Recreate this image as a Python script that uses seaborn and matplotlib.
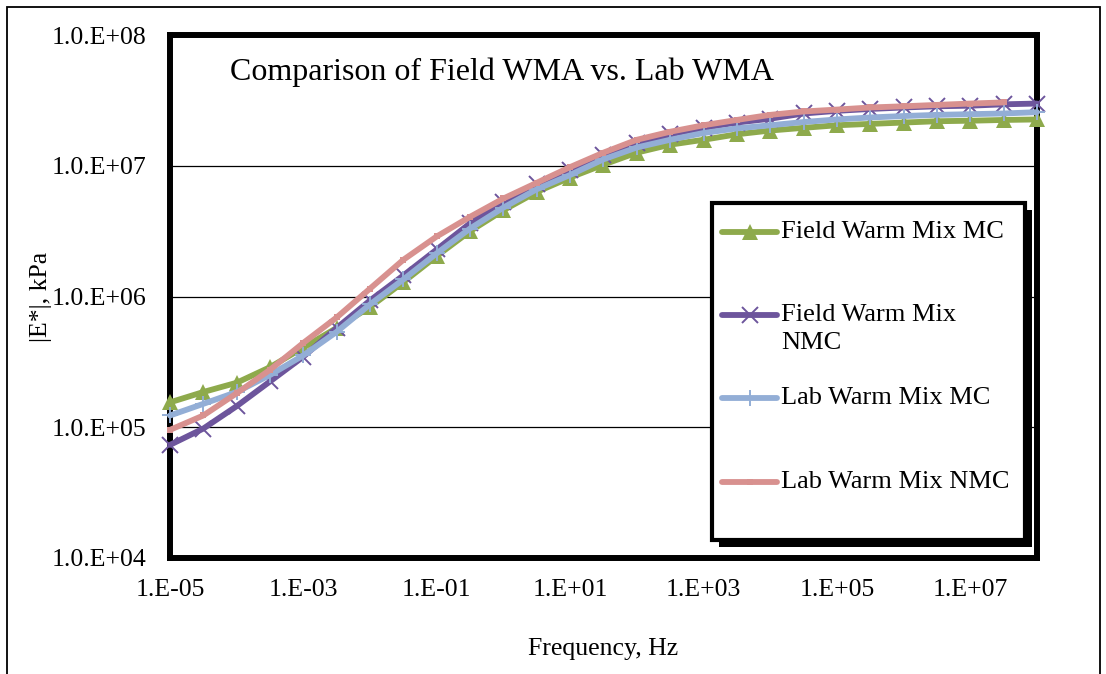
import matplotlib
matplotlib.use("Agg")
import matplotlib.pyplot as plt
from matplotlib.patches import Rectangle
from matplotlib.lines import Line2D
from matplotlib.ticker import FixedLocator, FixedFormatter, NullLocator
import seaborn as sns

# Loading frequency (Hz), half-decade steps
freq_hz = [1e-5, 3.16e-5, 1e-4, 3.16e-4, 1e-3, 3.16e-3, 1e-2, 3.16e-2,
           1e-1, 3.16e-1, 1e0, 3.16e0, 1e1, 3.16e1, 1e2, 3.16e2,
           1e3, 3.16e3, 1e4, 3.16e4, 1e5, 3.16e5, 1e6, 3.16e6,
           1e7, 3.16e7, 1e8]

# Dynamic modulus |E*| master curves, kPa
field_mc = [1.55e5, 1.86e5, 2.19e5, 2.88e5, 4.07e5, 5.75e5, 8.32e5, 1.29e6,
            2.04e6, 3.16e6, 4.57e6, 6.31e6, 8.13e6, 1.02e7, 1.26e7, 1.45e7,
            1.58e7, 1.74e7, 1.86e7, 1.95e7, 2.04e7, 2.09e7, 2.14e7, 2.19e7,
            2.21e7, 2.24e7, 2.26e7]
field_nmc = [7.33e4, 9.77e4, 1.45e5, 2.24e5, 3.47e5, 5.75e5, 9.33e5, 1.45e6,
             2.29e6, 3.63e6, 5.25e6, 7.24e6, 9.33e6, 1.20e7, 1.48e7, 1.74e7,
             1.95e7, 2.14e7, 2.29e7, 2.51e7, 2.63e7, 2.72e7, 2.79e7, 2.85e7,
             2.88e7, 2.95e7, 2.99e7]
lab_mc = [1.23e5, 1.51e5, 1.86e5, 2.51e5, 3.55e5, 5.37e5, 8.71e5, 1.35e6,
          2.14e6, 3.31e6, 4.79e6, 6.61e6, 8.51e6, 1.12e7, 1.38e7, 1.58e7,
          1.78e7, 1.93e7, 2.04e7, 2.16e7, 2.26e7, 2.34e7, 2.40e7, 2.45e7,
          2.48e7, 2.51e7, 2.57e7]
lab_nmc = [9.55e4, 1.23e5, 1.82e5, 2.75e5, 4.42e5, 6.92e5, 1.15e6, 1.91e6,
           2.88e6, 4.07e6, 5.62e6, 7.41e6, 9.77e6, 1.26e7, 1.58e7, 1.82e7,
           2.04e7, 2.24e7, 2.45e7, 2.60e7, 2.69e7, 2.79e7, 2.85e7, 2.92e7,
           2.99e7, 3.05e7]

series_names = ["Field Warm Mix MC", "Field Warm Mix\nNMC",
                "Lab Warm Mix MC", "Lab Warm Mix NMC"]

x_tick_values = [1e-5, 1e-3, 1e-1, 1e1, 1e3, 1e5, 1e7]
x_tick_labels = ["1.E-05", "1.E-03", "1.E-01", "1.E+01", "1.E+03", "1.E+05", "1.E+07"]
y_tick_values = [1e4, 1e5, 1e6, 1e7, 1e8]
y_tick_labels = ["1.0.E+04", "1.0.E+05", "1.0.E+06", "1.0.E+07", "1.0.E+08"]

title_text = "Comparison of Field WMA vs. Lab WMA"
x_label = "Frequency, Hz"
y_label = "|E*|, kPa"

sns.set_style("white")
plt.rcParams["font.family"] = ["Liberation Serif", "DejaVu Serif"]
plt.rcParams["text.color"] = "black"
plt.rcParams["axes.labelcolor"] = "black"
plt.rcParams["xtick.color"] = "black"
plt.rcParams["ytick.color"] = "black"

W, H = 1106, 674
fig = plt.figure(figsize=(W / 100, H / 100), dpi=100)
ax_l, ax_r, ax_t, ax_b = 170, 1037, 35, 558
ax = fig.add_axes([ax_l / W, 1 - ax_b / H, (ax_r - ax_l) / W, (ax_b - ax_t) / H])
ax.set_xscale("log")
ax.set_yscale("log")

styles = [
    dict(color="#8eaa4c", marker="^", markersize=11.5, markeredgewidth=0),
    dict(color="#6d559c", marker="x", markersize=12, markeredgewidth=1.4),
    dict(color="#93aed6", marker="+", markersize=12, markeredgewidth=1.4),
    dict(color="#d8918f", marker="s", markersize=5, markeredgewidth=0),
]
all_series = [field_mc, field_nmc, lab_mc, lab_nmc]

for vals, st in zip(all_series, styles):
    sns.lineplot(x=freq_hz[:len(vals)], y=vals, ax=ax, color=st["color"],
                 linewidth=4.2, marker=st["marker"], markersize=st["markersize"],
                 markeredgewidth=st["markeredgewidth"], markeredgecolor=st["color"],
                 markerfacecolor=st["color"], clip_on=False, zorder=3,
                 legend=False, solid_capstyle="round")

ax.set_xlim(1e-5, 1e8)
ax.set_ylim(1e4, 1e8)
ax.xaxis.set_major_locator(FixedLocator(x_tick_values))
ax.xaxis.set_major_formatter(FixedFormatter(x_tick_labels))
ax.yaxis.set_major_locator(FixedLocator(y_tick_values))
ax.yaxis.set_major_formatter(FixedFormatter(y_tick_labels))
ax.xaxis.set_minor_locator(NullLocator())
ax.yaxis.set_minor_locator(NullLocator())
ax.tick_params(axis="both", direction="out", length=5, width=0.9,
               color="black", labelsize=18.5, labelcolor="black")
ax.tick_params(axis="y", pad=12)
ax.tick_params(axis="x", pad=10)

ax.yaxis.grid(True, color="black", linewidth=0.9)
ax.xaxis.grid(False)
ax.set_axisbelow(True)
for s in ax.spines.values():
    s.set_visible(True)
    s.set_linewidth(4.3)
    s.set_color("black")

ax.set_xlabel(x_label, fontsize=18.5, color="black")
ax.set_ylabel(y_label, fontsize=18.5, color="black")
ax.xaxis.set_label_coords(0.5, (ax_b - 638) / (ax_b - ax_t))
ax.yaxis.set_label_coords((52 - ax_l) / (ax_r - ax_l), 0.5)

def axx(px):
    return (px - ax_l) / (ax_r - ax_l)

def axy(py):
    return (ax_b - py) / (ax_b - ax_t)

ax.text(axx(230), axy(72), title_text, fontsize=23, ha="left", va="center",
        transform=ax.transAxes)

# Legend panel with a solid drop shadow
lg_l, lg_t, lg_r, lg_b, sh = 712, 203, 1025, 540, 7
ax.add_patch(Rectangle((axx(lg_l + sh), axy(lg_b + sh)),
                       axx(lg_r) - axx(lg_l), axy(lg_t) - axy(lg_b),
                       transform=ax.transAxes, facecolor="black", edgecolor="black",
                       linewidth=0, zorder=5, clip_on=False))
ax.add_patch(Rectangle((axx(lg_l), axy(lg_b)),
                       axx(lg_r) - axx(lg_l), axy(lg_t) - axy(lg_b),
                       transform=ax.transAxes, facecolor="white", edgecolor="black",
                       linewidth=3, zorder=6, clip_on=False))

entry_y = [232, 315, 398, 482]
line_gap = 28
for name, st, ey in zip(series_names, styles, entry_y):
    ax.add_line(Line2D([axx(722), axx(749.5), axx(777)], [axy(ey)] * 3,
                       transform=ax.transAxes, color=st["color"], linewidth=4.2,
                       marker=st["marker"], markevery=[1],
                       markersize=st["markersize"],
                       markeredgewidth=st["markeredgewidth"],
                       markeredgecolor=st["color"], markerfacecolor=st["color"],
                       zorder=7, clip_on=False))
    # each label line is placed on its own row below the handle
    for i, part in enumerate(name.split("\n")):
        ax.text(axx(781), axy(ey + i * line_gap), part, fontsize=19,
                ha="left", va="center", transform=ax.transAxes, zorder=7)

# Thin outer frame around the chart
fig.patches.append(Rectangle((7 / W, -0.05), (1100 - 7) / W, 1.05 - 7 / H,
                             transform=fig.transFigure, fill=False,
                             edgecolor="black", linewidth=1.3))

fig.savefig("out.png", dpi=100, facecolor="white")
